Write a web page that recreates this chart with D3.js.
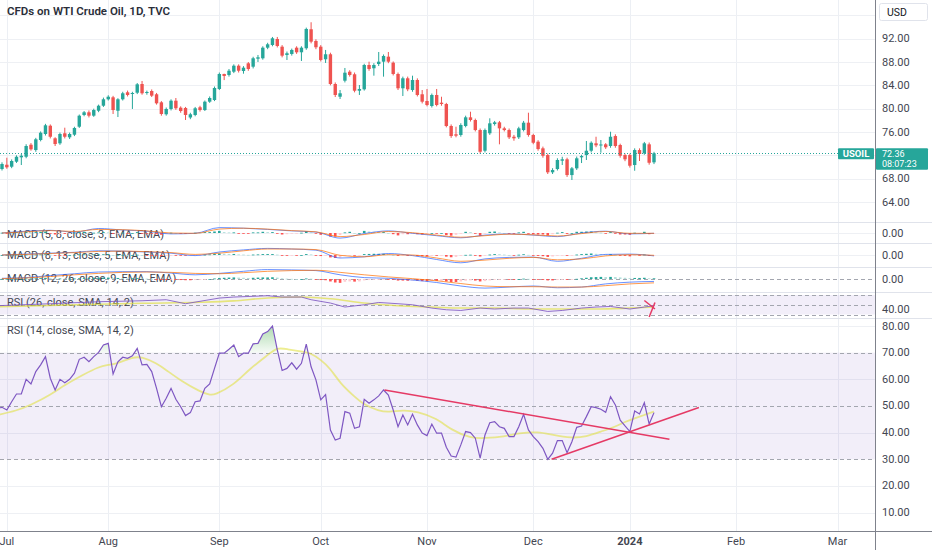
<!DOCTYPE html>
<html><head><meta charset="utf-8"><title>CFDs on WTI Crude Oil</title>
<script src="https://cdn.jsdelivr.net/npm/d3@7/dist/d3.min.js"></script>
<style>html,body{margin:0;padding:0;background:#fff;} svg{display:block;}</style>
</head><body>
<svg id="chart" width="932" height="550"></svg>
<script>
// ---------------- DATA ----------------
const title = "CFDs on WTI Crude Oil, 1D, TVC";
const symbol = "USOIL";
const lastPrice = 72.36;
const lastPriceText = "72.36";
const countdownText = "08:07:23";

const opens  = [69.65,70.39,70.05,70.91,71.66,71.76,73.82,72.91,74.63,75.66,77.08,74.92,74.06,75.78,75.09,75.54,76.91,78.92,79.38,78.80,79.65,80.51,81.61,81.95,79.65,81.61,82.81,82.52,82.74,84.23,82.69,83.03,82.47,81.09,79.04,79.95,81.37,80.17,80.12,78.49,78.92,80.24,79.77,81.20,81.49,83.38,85.95,85.78,86.34,87.37,86.46,87.78,87.20,88.57,88.64,90.46,90.92,91.95,90.63,89.21,89.38,90.46,89.67,90.36,93.62,91.61,90.63,88.47,89.33,84.23,82.05,84.80,86.34,85.90,83.08,83.32,87.49,86.93,87.66,88.06,88.92,87.89,85.95,83.50,85.21,83.20,84.92,82.47,81.32,80.46,82.35,81.03,80.80,77.03,75.61,75.49,77.03,78.52,78.06,76.34,72.79,75.78,77.37,77.66,76.63,76.34,75.19,75.09,76.34,77.60,75.49,74.34,73.20,72.05,69.09,69.65,71.08,71.32,68.62,69.77,71.66,72.05,72.79,74.06,73.72,73.89,73.60,75.31,73.77,72.05,72.05,70.34,72.91,72.35,73.89,70.80];
const highs  = [70.8,71.59,71.3,72.0,72.23,73.9,74.1,75.0,76.1,77.4,77.3,75.1,75.9,76.74,75.9,76.9,79.0,79.6,79.7,80.0,80.7,81.9,82.3,82.2,81.8,82.9,83.1,82.9,84.4,84.75,83.1,83.3,82.7,81.3,80.2,81.6,81.83,80.4,80.3,79.3,80.3,80.5,81.4,82.1,83.8,86.2,86.0,86.8,87.6,87.6,87.3,88.0,88.9,89.21,90.7,91.3,92.3,92.3,90.9,89.8,90.3,90.7,90.7,93.9,94.82,91.9,90.9,90.07,89.6,84.5,83.20,86.98,86.6,86.2,84.06,87.7,88.06,87.8,89.72,89.3,89.72,88.1,86.2,85.5,85.5,85.66,85.2,83.20,83.38,82.6,83.38,82.05,81.0,77.3,76.91,77.5,78.8,79.48,78.3,76.6,76.6,78.35,77.9,77.9,76.9,76.6,75.5,76.9,77.9,79.31,75.7,74.6,73.5,72.3,69.8,71.5,71.76,71.6,70.0,71.8,72.1,74.46,74.4,75.19,74.63,74.1,76.05,75.6,74.0,72.3,72.3,73.2,73.2,74.3,74.2,72.6];
const lows   = [69.4,69.7,69.8,70.7,70.34,71.5,72.8,72.6,74.4,75.4,74.9,73.6,73.8,74.9,74.8,75.3,76.7,78.7,78.5,78.6,79.4,80.3,81.4,79.09,78.57,81.4,82.1,79.95,82.5,82.4,82.4,82.0,80.7,78.8,78.8,79.7,79.8,79.3,78.06,78.2,78.7,79.5,79.6,81.0,81.3,83.2,84.9,85.5,86.1,86.2,86.0,86.5,86.9,88.01,88.4,90.2,90.7,90.5,88.8,88.35,89.1,89.4,88.18,90.1,91.2,90.2,88.1,87.84,84.0,82.0,81.66,84.5,85.5,82.8,82.35,83.1,86.5,85.66,87.32,85.49,87.8,85.7,83.2,82.17,83.0,82.9,82.1,80.9,80.4,80.2,80.4,80.5,76.8,75.0,75.09,75.2,76.8,77.8,76.1,72.3,72.5,75.5,77.1,73.89,76.1,74.8,74.5,74.8,76.1,75.2,73.9,72.8,71.6,68.8,68.8,69.4,70.34,68.3,67.77,69.5,70.68,71.20,72.5,73.4,72.45,73.1,73.3,73.3,71.6,71.0,69.9,69.36,71.03,72.1,70.4,70.5];
const closes = [70.51,69.95,71.03,71.76,71.93,73.60,73.03,74.75,75.88,77.15,75.19,73.94,75.66,75.19,75.66,76.69,78.80,79.38,78.80,79.77,80.51,81.61,82.05,79.77,81.61,82.64,82.35,82.69,84.18,82.64,82.86,82.23,80.92,79.09,79.95,81.37,80.07,79.60,78.92,79.04,80.07,79.77,81.20,81.83,83.55,85.95,85.61,86.51,87.37,86.51,87.03,86.81,88.64,88.81,90.46,91.04,92.07,90.75,89.09,89.50,90.07,89.67,90.46,93.67,91.49,90.53,88.35,89.33,84.23,82.35,82.64,86.17,85.78,83.08,83.38,87.49,86.81,87.49,88.06,89.04,88.06,85.95,83.50,85.21,83.32,84.92,82.35,81.20,80.63,82.35,80.63,80.80,77.03,75.31,75.37,77.20,78.52,78.06,76.34,72.62,76.34,77.49,77.66,76.63,76.34,75.09,74.92,76.63,77.60,75.49,74.16,73.08,71.93,69.09,69.48,71.20,71.32,68.62,69.77,71.49,71.88,72.79,74.16,73.72,73.86,73.38,75.19,73.60,71.93,71.32,70.22,72.91,72.23,74.06,70.73,72.35];

// time axis (bar index of first trading day of each month)
const monthLabels = ["Jul","Aug","Sep","Oct","Nov","Dec","2024","Feb","Mar"];
const monthBars   = [1,22,45,66,88,110,130,152,173];

// price axis ticks
const priceTicks = [64,68,76,80,84,88,92];
const priceGrid  = [64,68,72,76,80,84,88,92,96];

// MACD panes (sampled every 5 bars)
const macdBars = [0,5,10,15,20,25,30,35,40,45,50,55,60,65,70,75,80,85,90,95,100,105,110,115,120,125,130,135];
const macd1 = [0.0,0.6,0.9,0.3,1.5,1.0,0.6,-0.3,-0.1,1.8,1.6,1.2,0.7,0.3,-1.7,-0.2,0.7,-0.1,-0.9,-1.6,-0.7,-0.3,-0.7,-1.2,0.0,0.6,-0.3,-0.1];
const sig1  = [0.0,0.4,0.8,0.5,1.2,1.1,0.7,0.0,-0.1,1.3,1.6,1.3,0.8,0.4,-1.2,-0.5,0.5,0.1,-0.7,-1.4,-0.9,-0.4,-0.6,-1.0,-0.2,0.5,-0.1,-0.1];
const macd2 = [0.0,0.3,0.6,0.9,1.4,1.3,1.0,0.6,-0.2,1.0,1.7,2.2,2.0,1.6,-1.0,-0.6,0.5,-0.2,-1.5,-2.6,-1.3,-0.8,-0.7,-2.1,-1.1,0.2,0.3,-0.3];
const sig2  = [0.0,0.2,0.5,0.8,1.2,1.3,1.1,0.8,0.2,0.6,1.4,2.0,2.0,1.8,-0.1,-0.6,0.1,0.0,-1.0,-2.1,-1.7,-1.1,-0.8,-1.6,-1.3,-0.3,0.1,-0.1];
const macd3 = [0.2,0.4,1.0,1.5,2.0,2.1,2.1,1.7,1.2,1.6,2.2,2.7,2.6,2.4,1.2,0.4,0.2,-0.3,-1.0,-2.0,-2.6,-2.3,-2.0,-2.5,-2.3,-1.4,-0.9,-0.7];
const sig3  = [0.1,0.3,0.7,1.2,1.6,1.9,2.0,1.9,1.6,1.5,1.8,2.2,2.4,2.5,1.9,1.2,0.6,0.1,-0.5,-1.3,-2.0,-2.2,-2.2,-2.3,-2.3,-1.9,-1.4,-1.1];
const hist1 = [0.1,-0.1,0.2,0.3,0.2,0.4,0.1,0.3,0.4,0.5,
 -0.1,-0.5,-0.3,-0.3,-0.1,0.1,0.4,0.4,0.1,0.1,
 0.2,0.3,0.2,-0.3,-0.1,0.1,-0.05,0,0.3,-0.1,
 -0.1,-0.2,-0.4,-0.6,-0.3,0.1,0,-0.1,-0.2,-0.1,
 0.1,0.05,0.3,0.3,0.5,0.7,0.3,0.2,0.2,-0.1,
 -0.1,-0.2,0.2,0.2,0.4,0.3,0.3,-0.1,-0.5,-0.4,
 -0.2,-0.1,0.1,0.6,0.2,-0.2,-0.6,-0.4,-1.2,-1.2,
 -0.7,0.2,0.4,0,0,0.7,0.5,0.4,0.3,0.3,
 0,-0.4,-0.8,-0.4,-0.4,-0.1,-0.4,-0.5,-0.4,0,
 -0.1,0,-0.7,-0.9,-0.6,-0.1,0.4,0.3,-0.1,-0.9,
 -0.1,0.4,0.5,0.2,0,-0.2,-0.2,0.2,0.4,-0.1,
 -0.4,-0.5,-0.5,-0.8,-0.4,0.1,0.3,-0.3,0,0.4,
 0.4,0.5,0.5,0.2,0.1,-0.1,0.3,-0.2,-0.5,-0.5,
 -0.6,0.1,0,0.4,-0.4,-0.1];
const hist2 = [0,0.05,0.1,0.1,0.1, 0.15,0.1,0.15,0.2,0.25, 0.1,-0.1,-0.1,-0.1,0, 0.1,0.2,0.25,0.2,0.2,
 0.2,0.25,0.25,0,0.05, 0.05,0,0,0.1,0, -0.05,-0.1,-0.2,-0.35,-0.3, -0.15,-0.15,-0.2,-0.25,-0.2,
 -0.1,-0.05,0.1,0.2,0.35, 0.5,0.4,0.35,0.35,0.2, 0.15,0.05,0.15,0.2,0.3, 0.3,0.3,0.15,-0.1,-0.15,
 -0.1,-0.1,0,0.3,0.2, -0.05,-0.35,-0.3,-0.8,-1.0, -0.9,-0.3,-0.1,-0.2,-0.1, 0.3,0.35,0.4,0.4,0.4,
 0.25,0,-0.3,-0.2,-0.3, -0.2,-0.35,-0.45,-0.45,-0.2, -0.25,-0.2,-0.55,-0.75,-0.65, -0.3,0.05,0.1,-0.05,-0.5,
 -0.2,0.15,0.3,0.25,0.15, 0,-0.05,0.1,0.25,0.05, -0.15,-0.3,-0.4,-0.65,-0.5, -0.25,-0.05,-0.25,-0.1,0.15,
 0.3,0.4,0.5,0.4,0.3, 0.15,0.3,0.1,-0.15,-0.3, -0.45,-0.1,-0.1,0.15,-0.2,-0.15];
const hist3 = [0.05,0.05,0.08,0.1,0.1, 0.15,0.15,0.2,0.25,0.3, 0.25,0.15,0.15,0.1,0.1, 0.15,0.2,0.25,0.25,0.3,
 0.35,0.4,0.4,0.3,0.3, 0.25,0.2,0.2,0.25,0.15, 0.1,0.05,-0.05,-0.2,-0.25, -0.2,-0.25,-0.3,-0.35,-0.35,
 -0.3,-0.25,-0.15,0,0.15, 0.3,0.35,0.4,0.45,0.4, 0.35,0.3,0.35,0.4,0.45, 0.45,0.5,0.4,0.2,0.1,
 0.05,0,0,0.15,0.1, -0.05,-0.3,-0.35,-0.7,-1.0, -1.1,-0.8,-0.7,-0.75,-0.7, -0.4,-0.3,-0.2,-0.1,-0.05,
 -0.1,-0.25,-0.45,-0.45,-0.5, -0.45,-0.5,-0.6,-0.65,-0.55, -0.55,-0.5,-0.7,-0.85,-0.85, -0.7,-0.5,-0.4,-0.45,-0.7,
 -0.6,-0.4,-0.2,-0.1,-0.05, -0.1,-0.1,0,0.1,0.05, -0.05,-0.15,-0.25,-0.4,-0.4, -0.3,-0.2,-0.25,-0.15,0.05,
 0.2,0.35,0.5,0.55,0.6, 0.55,0.6,0.55,0.45,0.35, 0.25,0.3,0.3,0.35,0.2,0.2];

// RSI 26 pane (sampled)
const r26Bars = [-1,10,20,29,34,38,45,48,55,58,62,64,68,71,75,78,82,85,89,92,95,99,102,106,109,113,116,120,123,126,130,133,135];
const r26Vals = [48.0,52.1,56.2,58.2,60.3,52.1,63.7,65.8,68.5,65.8,65.8,60.3,53.5,45.3,50.0,54.7,52.1,50.0,43.2,39.7,38.3,43.2,41.2,43.2,43.2,36.3,38.3,43.2,45.3,46.5,41.2,45.3,48.0];
const r26MaBars = [-1,20,29,41,48,55,62,68,75,82,89,95,102,109,116,123,130,135];
const r26MaVals = [46,51,53,55,58,64,66,62.3,53.5,47.9,45.3,43.2,43.2,41.2,41.2,41.2,43.2,45.3];
const r26Marks = [{b:[133,135.2], v:[58.8,41.2]}, {b:[135.2,134], v:[54.7,24.8]}];

// RSI 14 pane (one value per bar, first value belongs to bar -1)
const rsiStart = -1;
const rsi14 = [49.1,49.5,48.5,51.6,54.5,54.5,60.0,58.3,62.9,65.4,68.5,60.4,56.0,60.0,58.7,60.0,62.3,67.5,68.3,66.6,
 68.5,70.1,72.9,73.5,62.0,66.6,68.3,67.9,68.8,71.6,65.4,65.6,62.9,56.6,49.7,52.9,56.6,52.5,49.7,46.4,
 47.5,51.6,51.9,56.6,58.3,64.1,69.8,69.8,71.3,72.9,68.5,69.8,69.8,73.3,73.5,77.0,77.9,80.0,71.0,63.3,
 64.1,66.2,63.8,66.0,73.2,64.7,59.8,52.3,54.3,41.0,37.2,37.9,47.9,47.3,41.6,42.2,52.5,51.0,52.3,53.8,
 56.0,54.1,48.5,42.2,46.6,42.9,46.9,42.9,39.8,38.9,43.2,39.8,39.8,34.5,31.2,30.8,35.4,40.4,40.0,37.9,
 30.4,39.1,43.7,44.1,42.2,41.6,38.5,38.5,42.2,46.9,41.0,38.5,36.6,34.1,30.0,32.3,37.0,37.0,32.5,36.6,
 42.0,42.5,46.0,49.7,49.4,48.8,47.6,53.5,50.4,44.7,42.5,40.4,48.1,47.0,51.2,43.2,47.5];
const rsiMaBars = [-1,3,6,10,13,17,20,22,24,27,29,32,34,37,41,43,44,48,51,55,57,59,62,64,66,68,70,73,75,78,80,83,86,90,93,97,100,104,107,111,114,118,121,124,127,129,131,133,135];
const rsiMaVals = [46.6,48.2,50.4,54.1,57.9,61.9,64.7,65.4,66.0,68.3,68.5,66.0,63.5,59.5,55.4,54.1,54.1,57.9,63.5,69.1,72.0,71.3,70.4,69.8,67.3,64.1,58.5,53.5,50.4,48.2,47.6,48.5,47.9,45.4,41.0,37.9,37.9,38.5,39.8,40.4,39.1,37.9,38.5,40.4,42.2,44.1,45.4,46.6,47.9];
const rsiTicks = [80,70,60,50,40,30,20,10];
const rsiTrend = [{b:[79.2,138.2], v:[56.0,37.5]}, {b:[113.8,144.3], v:[30.0,49.4]}];

const legends = ["MACD (5, 8, close, 3, EMA, EMA)","MACD (8, 13, close, 5, EMA, EMA)","MACD (12, 26, close, 9, EMA, EMA)","RSI (26, close, SMA, 14, 2)","RSI (14, close, SMA, 14, 2)"];

// ---------------- CHART ----------------
const FONT = "Roboto, 'Noto Sans', 'DejaVu Sans', sans-serif";
const PLOT_R = 875, W = 932, H = 550, AXIS_Y = 531;
const UP = "#26a69a", DOWN = "#ef5350";
const svg = d3.select("#chart");

const x    = d3.scaleLinear().domain([0,135]).range([2,654]);
const yP   = d3.scaleLinear().domain([64,92]).range([202,38.7]);
const yM1  = d3.scaleLinear().domain([0,1]).range([233,230]);
const yM2  = d3.scaleLinear().domain([0,1]).range([255,252]);
const yM3  = d3.scaleLinear().domain([0,1]).range([279,275.5]);
const yR26 = d3.scaleLinear().domain([30,70]).range([314.5,295]);
const yR14 = d3.scaleLinear().domain([10,80]).range([512.6,326]);

const panes = [["price",0,222],["m1",222,243],["m2",243,267],["m3",267,292],["r26",292,318],["r14",318,AXIS_Y]];
const defs = svg.append("defs");
panes.forEach(([id,t,b]) => defs.append("clipPath").attr("id","clip-"+id)
  .append("rect").attr("x",0).attr("y",t).attr("width",PLOT_R).attr("height",b-t));
defs.append("clipPath").attr("id","clip-ob").append("rect").attr("x",0).attr("y",318).attr("width",PLOT_R).attr("height",yR14(70)-318);
defs.append("clipPath").attr("id","clip-os").append("rect").attr("x",0).attr("y",yR14(30)).attr("width",PLOT_R).attr("height",AXIS_Y-yR14(30));
const gOb = defs.append("linearGradient").attr("id","gOb").attr("gradientUnits","userSpaceOnUse").attr("x1",0).attr("x2",0).attr("y1",yR14(80)).attr("y2",yR14(70));
gOb.append("stop").attr("offset",0).attr("stop-color","rgb(76,175,80)").attr("stop-opacity",0.45);
gOb.append("stop").attr("offset",1).attr("stop-color","rgb(76,175,80)").attr("stop-opacity",0.05);
const gOs = defs.append("linearGradient").attr("id","gOs").attr("gradientUnits","userSpaceOnUse").attr("x1",0).attr("x2",0).attr("y1",yR14(30)).attr("y2",yR14(20));
gOs.append("stop").attr("offset",0).attr("stop-color","rgb(242,54,69)").attr("stop-opacity",0.05);
gOs.append("stop").attr("offset",1).attr("stop-color","rgb(242,54,69)").attr("stop-opacity",0.45);

svg.append("rect").attr("width",W).attr("height",H).attr("fill","#ffffff");

// vertical grid
svg.append("g").selectAll("line").data(monthBars).join("line")
  .attr("x1",d=>Math.round(x(d))+0.5).attr("x2",d=>Math.round(x(d))+0.5)
  .attr("y1",0).attr("y2",AXIS_Y).attr("stroke","#eceff4").attr("stroke-width",1);

// horizontal grids
function hline(g,y,x1,x2,stroke,dash){
  const l = g.append("line").attr("x1",x1).attr("x2",x2).attr("y1",Math.round(y)+0.5).attr("y2",Math.round(y)+0.5)
    .attr("stroke",stroke).attr("stroke-width",1);
  if(dash) l.attr("stroke-dasharray",dash);
  return l;
}
const gGrid = svg.append("g");
priceGrid.forEach(v=>hline(gGrid,yP(v),0,PLOT_R,"#eef0f4"));
[80,60,40,20,10].forEach(v=>hline(gGrid,yR14(v),0,PLOT_R,"#eef0f4"));
hline(gGrid,yM1(0),0,PLOT_R,"#eef0f4");
hline(gGrid,yM2(0),0,PLOT_R,"#eef0f4");

// RSI bands
svg.append("rect").attr("x",0).attr("y",yR14(70)).attr("width",PLOT_R).attr("height",yR14(30)-yR14(70)).attr("fill","rgba(126,87,194,0.1)");
svg.append("rect").attr("x",0).attr("y",yR26(70)).attr("width",PLOT_R).attr("height",yR26(30)-yR26(70)).attr("fill","rgba(126,87,194,0.1)");
[70,50,30].forEach(v=>hline(svg,yR14(v),0,PLOT_R,"#a3a6af","4,3"));
[70,50,30].forEach(v=>hline(svg,yR26(v),0,PLOT_R,"#a3a6af","4,3"));
hline(svg,yM3(0),0,PLOT_R,"#a3a6af","4,3");

// pane separators
[222,243,267,292,318].forEach(y=>hline(svg,y-0.5,0,W,"#e0e3eb"));

// legends
const legendY = [234,255.5,278.5,302.5,330];
svg.append("g").selectAll("text").data(legends).join("text")
  .attr("x",7).attr("y",(d,i)=>legendY[i]).attr("dominant-baseline","central")
  .attr("font-family",FONT).attr("font-size",11).attr("fill","#434651").text(d=>d);
svg.append("text").attr("x",7).attr("y",11).attr("dominant-baseline","central")
  .attr("font-family",FONT).attr("font-size",11.5).attr("font-weight",600).attr("fill","#2a2e39").text(title);

// candles
const candles = opens.map((o,i)=>({i,o,h:highs[i],l:lows[i],c:closes[i]}));
const gC = svg.append("g").attr("clip-path","url(#clip-price)");
gC.selectAll("line").data(candles).join("line")
  .attr("x1",d=>x(d.i)).attr("x2",d=>x(d.i)).attr("y1",d=>yP(d.h)).attr("y2",d=>yP(d.l))
  .attr("stroke",d=>d.c>=d.o?UP:DOWN).attr("stroke-width",1);
gC.selectAll("rect").data(candles).join("rect")
  .attr("x",d=>x(d.i)-1.7).attr("width",3.4)
  .attr("y",d=>yP(Math.max(d.o,d.c))).attr("height",d=>Math.max(1,Math.abs(yP(d.o)-yP(d.c))))
  .attr("fill",d=>d.c>=d.o?UP:DOWN);
// last price line
hline(svg,yP(lastPrice)-0.5,0,838,UP,"1,2");

// MACD panes
function drawMacd(id,yS,hist,macd,sig){
  const g = svg.append("g").attr("clip-path",`url(#clip-${id})`);
  g.selectAll("rect").data(hist).join("rect")
    .attr("x",(d,i)=>x(i)-1.3).attr("width",2.6)
    .attr("y",d=>Math.min(yS(d),yS(0))).attr("height",d=>Math.max(0.8,Math.abs(yS(d)-yS(0))))
    .attr("fill",(d,i)=>{const p=i>0?hist[i-1]:0; return d>=0?(d>=p?"#26a69a":"#b2dfdb"):(d<=p?"#ff5252":"#ffcdd2");});
  const line = d3.line().x((d,i)=>x(macdBars[i])).y(d=>yS(d)).curve(d3.curveMonotoneX);
  g.append("path").attr("d",line(macd)).attr("fill","none").attr("stroke","#2962ff").attr("stroke-width",1).attr("opacity",0.7);
  g.append("path").attr("d",line(sig)).attr("fill","none").attr("stroke","#ff6d00").attr("stroke-width",1).attr("opacity",0.7);
}
drawMacd("m1",yM1,hist1,macd1,sig1);
drawMacd("m2",yM2,hist2,macd2,sig2);
drawMacd("m3",yM3,hist3,macd3,sig3);

// RSI 26
const g26 = svg.append("g").attr("clip-path","url(#clip-r26)");
g26.append("path").attr("d",d3.line().x((d,i)=>x(r26MaBars[i])).y(d=>yR26(d)).curve(d3.curveMonotoneX)(r26MaVals))
  .attr("fill","none").attr("stroke","rgba(225,225,70,0.7)").attr("stroke-width",1.6);
g26.append("path").attr("d",d3.line().x((d,i)=>x(r26Bars[i])).y(d=>yR26(d))(r26Vals))
  .attr("fill","none").attr("stroke","#7e57c2").attr("stroke-width",1).attr("opacity",0.85);
r26Marks.forEach(m=>g26.append("line").attr("x1",x(m.b[0])).attr("x2",x(m.b[1])).attr("y1",yR26(m.v[0])).attr("y2",yR26(m.v[1]))
  .attr("stroke","#e53a65").attr("stroke-width",1.5));

// RSI 14
const g14 = svg.append("g").attr("clip-path","url(#clip-r14)");
const rsiX = (d,i)=>x(i+rsiStart);
g14.append("g").attr("clip-path","url(#clip-ob)").append("path")
  .attr("d",d3.area().x(rsiX).y0(yR14(70)).y1(d=>yR14(d))(rsi14)).attr("fill","url(#gOb)");
g14.append("g").attr("clip-path","url(#clip-os)").append("path")
  .attr("d",d3.area().x(rsiX).y0(yR14(30)).y1(d=>yR14(d))(rsi14)).attr("fill","url(#gOs)");
g14.append("path").attr("d",d3.line().x((d,i)=>x(rsiMaBars[i])).y(d=>yR14(d)).curve(d3.curveBasis)(rsiMaVals))
  .attr("fill","none").attr("stroke","rgba(225,225,70,0.6)").attr("stroke-width",1.8);
g14.append("path").attr("d",d3.line().x(rsiX).y(d=>yR14(d))(rsi14))
  .attr("fill","none").attr("stroke","#7e57c2").attr("stroke-width",1.2);
rsiTrend.forEach(m=>g14.append("line").attr("x1",x(m.b[0])).attr("x2",x(m.b[1])).attr("y1",yR14(m.v[0])).attr("y2",yR14(m.v[1]))
  .attr("stroke","#e53a65").attr("stroke-width",1.5));

// axes
svg.append("line").attr("x1",PLOT_R+0.5).attr("x2",PLOT_R+0.5).attr("y1",0).attr("y2",H).attr("stroke","#7f828c").attr("stroke-width",1);
svg.append("line").attr("x1",0).attr("x2",W).attr("y1",AXIS_Y+0.5).attr("y2",AXIS_Y+0.5).attr("stroke","#7f828c").attr("stroke-width",1);

const axisText = (y,t)=> svg.append("text").attr("x",882).attr("y",y).attr("dominant-baseline","central")
  .attr("font-family",FONT).attr("font-size",11).attr("fill","#434651").text(t);
priceTicks.forEach(v=>axisText(yP(v),v.toFixed(2)));
[yM1(0),yM2(0),yM3(0)].forEach(y=>axisText(y,"0.00"));
axisText(yR26(40),"40.00");
rsiTicks.forEach(v=>axisText(yR14(v),v.toFixed(2)));

// time labels
svg.append("g").selectAll("text").data(monthLabels).join("text")
  .attr("x",(d,i)=>x(monthBars[i])).attr("y",541).attr("text-anchor","middle").attr("dominant-baseline","central")
  .attr("font-family",FONT).attr("font-size",11).attr("font-weight",d=>d==="2024"?700:400)
  .attr("fill","#434651").text(d=>d);

// USD box
svg.append("rect").attr("x",879.5).attr("y",3.5).attr("width",48).attr("height",17).attr("rx",2)
  .attr("fill","#fff").attr("stroke","#e0e3eb");
svg.append("text").attr("x",887).attr("y",12).attr("dominant-baseline","central")
  .attr("font-family",FONT).attr("font-size",10.5).attr("fill","#131722").text("USD");

// last price labels
const yl = yP(lastPrice);
svg.append("rect").attr("x",838).attr("y",yl-5).attr("width",36).attr("height",11).attr("fill",UP).attr("rx",1);
svg.append("text").attr("x",856).attr("y",yl+0.5).attr("text-anchor","middle").attr("dominant-baseline","central")
  .attr("font-family",FONT).attr("font-size",9.5).attr("font-weight",700).attr("fill","#fff").text(symbol);
svg.append("rect").attr("x",876).attr("y",yl-5).attr("width",52).attr("height",21.5).attr("fill",UP).attr("rx",1);
svg.append("text").attr("x",882).attr("y",yl+0.3).attr("dominant-baseline","central")
  .attr("font-family",FONT).attr("font-size",9).attr("fill","#fff").text(lastPriceText);
svg.append("text").attr("x",882).attr("y",yl+10.9).attr("dominant-baseline","central")
  .attr("font-family",FONT).attr("font-size",9).attr("fill","#fff").text(countdownText);
</script>
</body></html>
